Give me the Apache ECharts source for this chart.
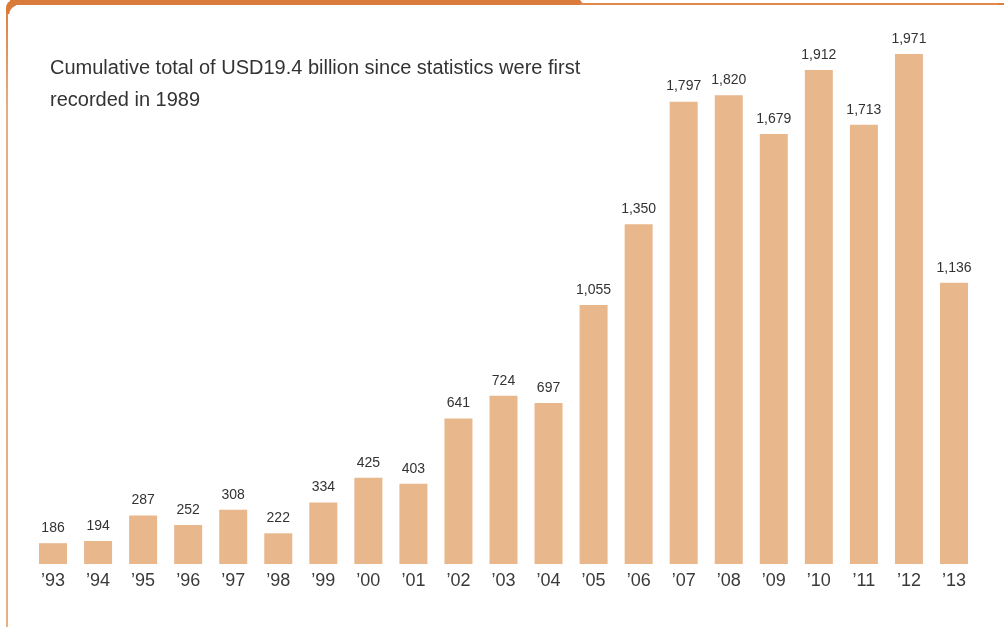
<!DOCTYPE html>
<html>
<head>
<meta charset="utf-8">
<script src="https://cdn.jsdelivr.net/npm/echarts@6/dist/echarts.min.js"></script>
<style>
  html, body { margin: 0; padding: 0; background: #ffffff; }
  #chart { width: 1004px; height: 627px; }
</style>
</head>
<body>
<div id="chart"></div>
<script>
// Annual investment amounts (USD million), 1993–2013
const years = ['’93','’94','’95','’96','’97','’98','’99','’00','’01','’02','’03','’04','’05','’06','’07','’08','’09','’10','’11','’12','’13'];
const amounts = [186, 194, 287, 252, 308, 222, 334, 425, 403, 641, 724, 697, 1055, 1350, 1797, 1820, 1679, 1912, 1713, 1971, 1136];
const noteLines = ['Cumulative total of USD19.4 billion since statistics were first', 'recorded in 1989'];

const chart = echarts.init(document.getElementById('chart'), null, { renderer: 'canvas' });

const sans = '"Liberation Sans", Arial, sans-serif';

chart.setOption({
  animation: false,
  backgroundColor: '#ffffff',
  grid: { left: 30.5, right: 27.5, top: 46, bottom: 63 },
  xAxis: {
    type: 'category',
    data: years,
    axisLine: { show: false },
    axisTick: { show: false },
    axisLabel: {
      margin: 8,
      fontSize: 18,
      fontFamily: sans,
      color: '#3a3a3a'
    }
  },
  yAxis: {
    type: 'value',
    min: 110,
    max: 2000,
    show: false,
    splitLine: { show: false }
  },
  series: [{
    type: 'bar',
    data: amounts,
    barWidth: 28,
    itemStyle: { color: '#E8B78C' },
    label: {
      show: true,
      position: 'top',
      distance: 8,
      fontSize: 14,
      fontFamily: sans,
      color: '#333333',
      formatter: p => p.value.toLocaleString('en-US')
    }
  }],
  graphic: [
    // frame outline with rounded top-left corner
    {
      type: 'rect',
      shape: { x: 7, y: 4, width: 1060, height: 700, r: [12, 12, 0, 0] },
      style: {
        fill: 'none',
        lineWidth: 2,
        stroke: {
          type: 'linear', x: 0, y: 0, x2: 0, y2: 1,
          colorStops: [
            { offset: 0, color: '#DB7E3E' },
            { offset: 0.15, color: '#E8AD80' },
            { offset: 1, color: '#E8B083' }
          ]
        }
      },
      z: 10
    },
    // heavy header band along the top edge
    {
      type: 'polygon',
      shape: { points: [[10, 0], [580, 0], [584, 5], [10, 5]] },
      style: { fill: '#D97B3A' },
      z: 11
    },
    {
      type: 'rect',
      shape: { x: 6, y: 0, width: 10, height: 14, r: [8, 0, 0, 0] },
      style: { fill: '#D97B3A' },
      z: 11
    },
    {
      type: 'rect',
      shape: { x: 9, y: 5, width: 14, height: 14, r: [10, 0, 0, 0] },
      style: { fill: '#ffffff' },
      z: 12
    },
    {
      type: 'line',
      shape: { x1: 580, y1: 4, x2: 998, y2: 4 },
      style: { stroke: '#E08A4E', lineWidth: 2 },
      z: 11
    },
    // note text
    {
      type: 'text',
      left: 50,
      top: 52,
      style: {
        text: noteLines.join('\n'),
        fontSize: 20,
        lineHeight: 32,
        fontFamily: sans,
        fill: '#333333'
      },
      z: 20
    }
  ]
});
</script>
</body>
</html>
